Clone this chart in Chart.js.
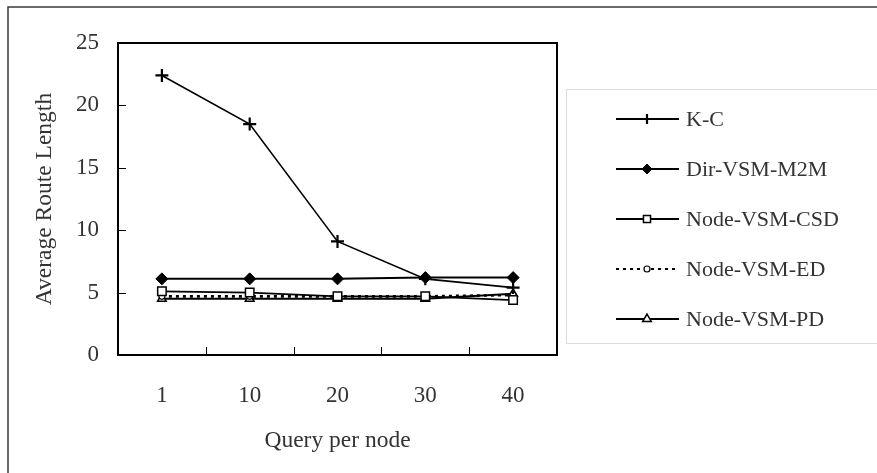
<!DOCTYPE html>
<html>
<head>
<meta charset="utf-8">
<script src="https://cdn.jsdelivr.net/npm/chart.js@4.4.1/dist/chart.umd.min.js"></script>
<style>
  html, body { margin: 0; padding: 0; background: #fff; }
  canvas { display: block; }
</style>
</head>
<body>
<canvas id="myChart" width="877" height="473"></canvas>
<script>
const queries = ['1', '10', '20', '30', '40']
const yTicks = [0, 5, 10, 15, 20, 25]

const kc = [22.4, 18.5, 9.1, 6.1, 5.4]
const dirVsmM2m = [6.1, 6.1, 6.1, 6.2, 6.2]
const nodeVsmCsd = [5.1, 5.0, 4.7, 4.7, 4.4]
const nodeVsmEd = [4.7, 4.7, 4.7, 4.7, 4.8]
const nodeVsmPd = [4.5, 4.5, 4.5, 4.5, 4.9]

const FONT = "'Liberation Serif', 'Times New Roman', serif"
const TEXT = '#333333'

/////////////////////////////////////////////////////////////
// setup
const data = {
    labels: queries,
    datasets: [{
        label: 'K-C',
        data: kc,
        borderColor: '#000',
        borderWidth: 1.6,
        pointStyle: 'cross',
        pointRadius: 6.5,
        pointBorderWidth: 2.2,
        pointBorderColor: '#000',
    },
    {
        label: 'Dir-VSM-M2M',
        data: dirVsmM2m,
        borderColor: '#000',
        borderWidth: 2,
        pointStyle: 'rectRot',
        pointRadius: 6,
        pointBackgroundColor: '#000',
        pointBorderColor: '#000',
        pointBorderWidth: 1,
    },
    {
        label: 'Node-VSM-CSD',
        data: nodeVsmCsd,
        borderColor: '#000',
        borderWidth: 1.6,
        pointStyle: 'rect',
        pointRadius: 6,
        pointBackgroundColor: '#fff',
        pointBorderColor: '#000',
        pointBorderWidth: 1.5,
    },
    {
        label: 'Node-VSM-ED',
        data: nodeVsmEd,
        borderColor: '#000',
        borderWidth: 2.6,
        borderDash: [3, 4],
        pointStyle: 'circle',
        pointRadius: 3,
        pointBackgroundColor: '#fff',
        pointBorderColor: '#000',
        pointBorderWidth: 1.2,
    },
    {
        label: 'Node-VSM-PD',
        data: nodeVsmPd,
        borderColor: '#000',
        borderWidth: 2,
        pointStyle: 'triangle',
        pointRadius: 5,
        pointBackgroundColor: '#fff',
        pointBorderColor: '#000',
        pointBorderWidth: 1.5,
    }]
}

// outer frame, plot box, inward tick marks
const framePlugin = {
    id: 'frame',
    beforeDraw(chart) {
        const ctx = chart.ctx
        ctx.save()
        ctx.fillStyle = '#fff'
        ctx.fillRect(0, 0, chart.width, chart.height)
        ctx.strokeStyle = '#3a3a3a'
        ctx.lineWidth = 1.5
        ctx.beginPath()
        ctx.moveTo(8, chart.height)
        ctx.lineTo(8, 7)
        ctx.lineTo(chart.width, 7)
        ctx.stroke()
        ctx.restore()
    },
    afterDraw(chart) {
        const ctx = chart.ctx
        const area = chart.chartArea
        const x = chart.scales.x
        const y = chart.scales.y
        ctx.save()
        ctx.strokeStyle = '#000'
        ctx.lineWidth = 1
        ctx.beginPath()
        yTicks.slice(1, -1).forEach(v => {
            const py = Math.round(y.getPixelForValue(v)) + 0.5
            ctx.moveTo(area.left, py)
            ctx.lineTo(area.left + 8, py)
        })
        for (let i = 1; i < queries.length; i++) {
            const px = Math.round((x.getPixelForValue(i - 1) + x.getPixelForValue(i)) / 2) + 0.5
            ctx.moveTo(px, area.bottom)
            ctx.lineTo(px, area.bottom - 8)
        }
        ctx.stroke()
        ctx.lineWidth = 2
        ctx.strokeRect(area.left, area.top, area.right - area.left, area.bottom - area.top)
        ctx.restore()
    }
}

// legend box on the right: line sample with the marker in the middle
const legendPlugin = {
    id: 'sideLegend',
    afterDraw(chart) {
        const ctx = chart.ctx
        const boxLeft = 566, boxTop = 89, boxBottom = 343
        ctx.save()
        ctx.strokeStyle = '#dcdcdc'
        ctx.lineWidth = 1
        ctx.beginPath()
        ctx.moveTo(chart.width, boxTop + 0.5)
        ctx.lineTo(boxLeft + 0.5, boxTop + 0.5)
        ctx.lineTo(boxLeft + 0.5, boxBottom + 0.5)
        ctx.lineTo(chart.width, boxBottom + 0.5)
        ctx.stroke()

        chart.data.datasets.forEach((ds, i) => {
            const cy = 119 + i * 50
            ctx.strokeStyle = '#000'
            ctx.lineWidth = 2
            ctx.setLineDash(ds.borderDash ? [3, 4] : [])
            ctx.beginPath()
            ctx.moveTo(616, cy)
            ctx.lineTo(679, cy)
            ctx.stroke()
            ctx.setLineDash([])
            ctx.fillStyle = ds.pointBackgroundColor || '#000'
            ctx.strokeStyle = '#000'
            ctx.lineWidth = ds.pointBorderWidth
            const r = ds.pointStyle === 'circle' ? 3 : 5
            Chart.helpers.drawPoint(ctx, { pointStyle: ds.pointStyle, radius: r, rotation: 0, borderWidth: ds.pointBorderWidth }, 647, cy)
            ctx.fillStyle = TEXT
            ctx.font = '22px ' + FONT
            ctx.textBaseline = 'middle'
            ctx.textAlign = 'left'
            ctx.fillText(ds.label, 686, cy + 1)
        })
        ctx.restore()
    }
}

// config
const config = {
    type: 'line',
    data,
    plugins: [framePlugin, legendPlugin],
    options: {
        responsive: false,
        animation: false,
        layout: {
            padding: { left: 0, top: 43, right: 320, bottom: 0 }
        },
        plugins: {
            legend: { display: false },
            tooltip: { enabled: false },
        },
        elements: {
            line: { tension: 0, fill: false }
        },
        scales: {
            x: {
                offset: true,
                grid: { display: false, drawTicks: false },
                border: { display: true, color: '#000', width: 2 },
                ticks: {
                    color: TEXT,
                    padding: 27,
                    font: { family: FONT, size: 23 },
                },
                title: {
                    display: true,
                    text: 'Query per node',
                    color: TEXT,
                    font: { family: FONT, size: 23.5 },
                    padding: { top: 0, bottom: 18 },
                },
                afterFit(scale) { scale.height = 118 }
            },
            y: {
                min: 0,
                max: 25,
                grid: { display: false, drawTicks: false },
                border: { display: true, color: '#000', width: 2 },
                afterBuildTicks(scale) {
                    scale.ticks = yTicks.map(v => ({ value: v }))
                },
                ticks: {
                    color: TEXT,
                    padding: 19,
                    font: { family: FONT, size: 23 },
                },
                title: {
                    display: true,
                    text: 'Average Route Length',
                    color: TEXT,
                    font: { family: FONT, size: 23.5 },
                    padding: { top: 31, bottom: 0 },
                },
                afterFit(scale) { scale.width = 118 }
            }
        }
    },
}
// render / init
const myChart = new Chart(
    document.getElementById('myChart'),
    config
)
</script>
</body>
</html>
